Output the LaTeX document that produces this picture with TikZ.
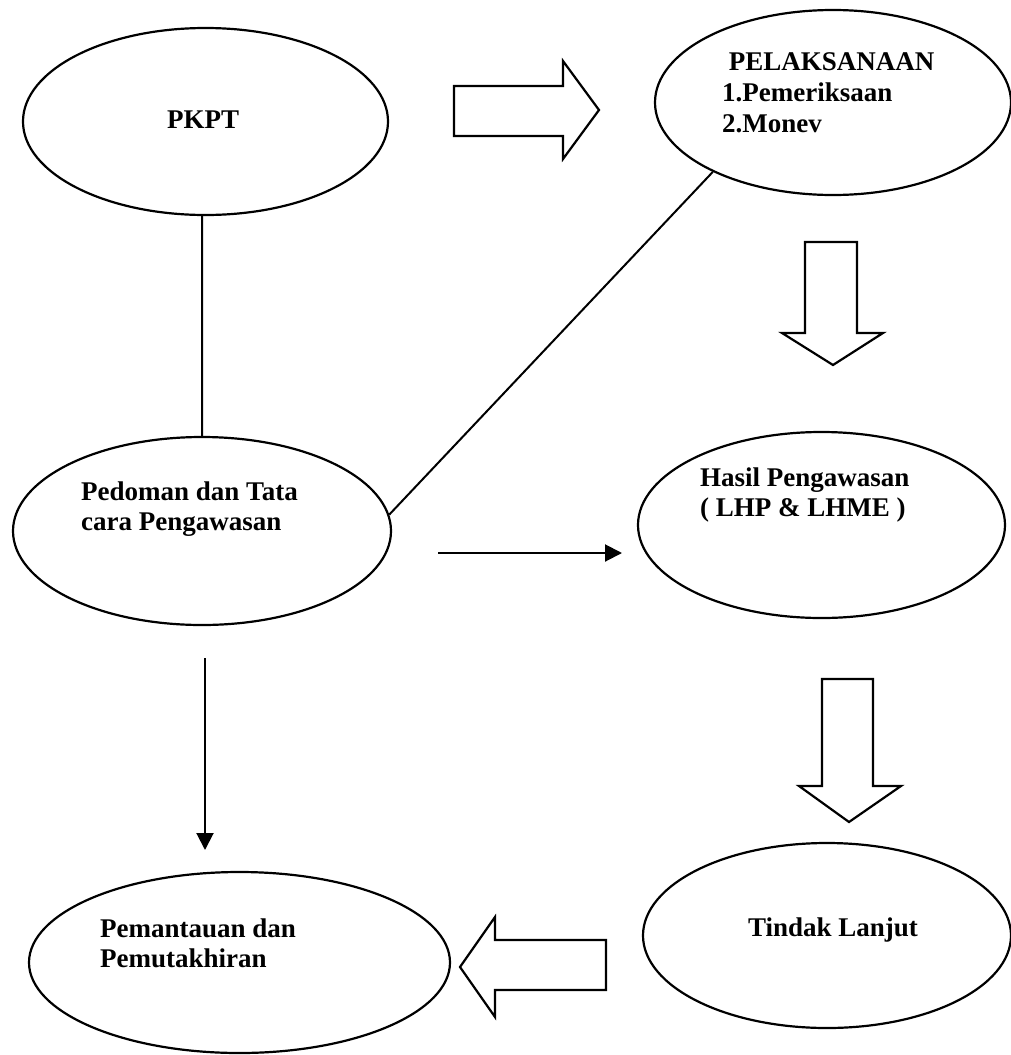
\documentclass[tikz,border=0pt]{standalone}
\usepackage{fontspec}
\setmainfont{Liberation Serif}
\usetikzlibrary{arrows.meta,shapes.geometric}
\tikzset{
  oval/.style={draw, ellipse, line width=2.2pt, inner sep=0pt},
  lbl/.style={font=\bfseries\fontsize{27}{30}\selectfont, inner sep=0pt, align=left},
  blockarrow/.style={draw, line width=2.2pt, line join=miter, fill=white},
  conn/.style={draw, line width=2pt},
  thinarrow/.style={draw, line width=2pt, -{Triangle[length=17pt, width=17pt]}}
}
\begin{document}
\begin{tikzpicture}[x=1pt, y=-1pt]
\useasboundingbox (0,0) rectangle (1011,1055);
% ellipses
\node[oval, minimum width=365pt, minimum height=187pt] (pkpt) at (205.5,121.5) {};
\node[oval, minimum width=356pt, minimum height=185pt] (pel) at (833,102.5) {};
\node[oval, minimum width=378pt, minimum height=188pt] (ped) at (202,531) {};
\node[oval, minimum width=367pt, minimum height=186pt] (has) at (821.5,525) {};
\node[oval, minimum width=368pt, minimum height=185pt] (tin) at (827,935.5) {};
\node[oval, minimum width=421pt, minimum height=181pt] (pem) at (239.5,962.5) {};
% texts
\node[lbl] (tpkpt) at (203,120) {PKPT};
\node[lbl, anchor=north west, font=\bfseries\fontsize{27}{31}\selectfont] (tpel) at (722,52) {\ PELAKSANAAN\\1.Pemeriksaan\\2.Monev};
\node[lbl, anchor=north west] (tped) at (81,482) {Pedoman dan Tata\\cara Pengawasan};
\node[lbl, anchor=north west] (thas) at (700,468) {Hasil Pengawasan\\( LHP \& LHME )};
\node[lbl] (ttin) at (833,930) {Tindak Lanjut};
\node[lbl, anchor=north west] (tpem) at (100,919) {Pemantauan dan\\Pemutakhiran};
% plain connectors
\draw[conn] (pkpt.268.3) -- (ped.90.6);
\draw[conn] (pel.210) -- (ped.5.5);
\coordinate (h1) at (438,553);
\coordinate (h2) at (622,553);
\draw[thinarrow] (h1) -- (h2);
\coordinate (v1) at (205,658);
\coordinate (v2) at (205,850);
\draw[thinarrow] (v1) -- (v2);
% block arrows
\draw[blockarrow] (454,86) -- (563,86) -- (563,61) -- (599,110) -- (563,159) -- (563,136) -- (454,136) -- cycle;
\draw[blockarrow] (805,242) -- (857,242) -- (857,333) -- (883,333) -- (833,365) -- (782,333) -- (805,333) -- cycle;
\draw[blockarrow] (822,679) -- (873,679) -- (873,786) -- (901,786) -- (849,822) -- (799,786) -- (822,786) -- cycle;
\draw[blockarrow] (606,940) -- (495,940) -- (495,917) -- (460,967) -- (495,1017) -- (495,990) -- (606,990) -- cycle;
\end{tikzpicture}
\end{document}
